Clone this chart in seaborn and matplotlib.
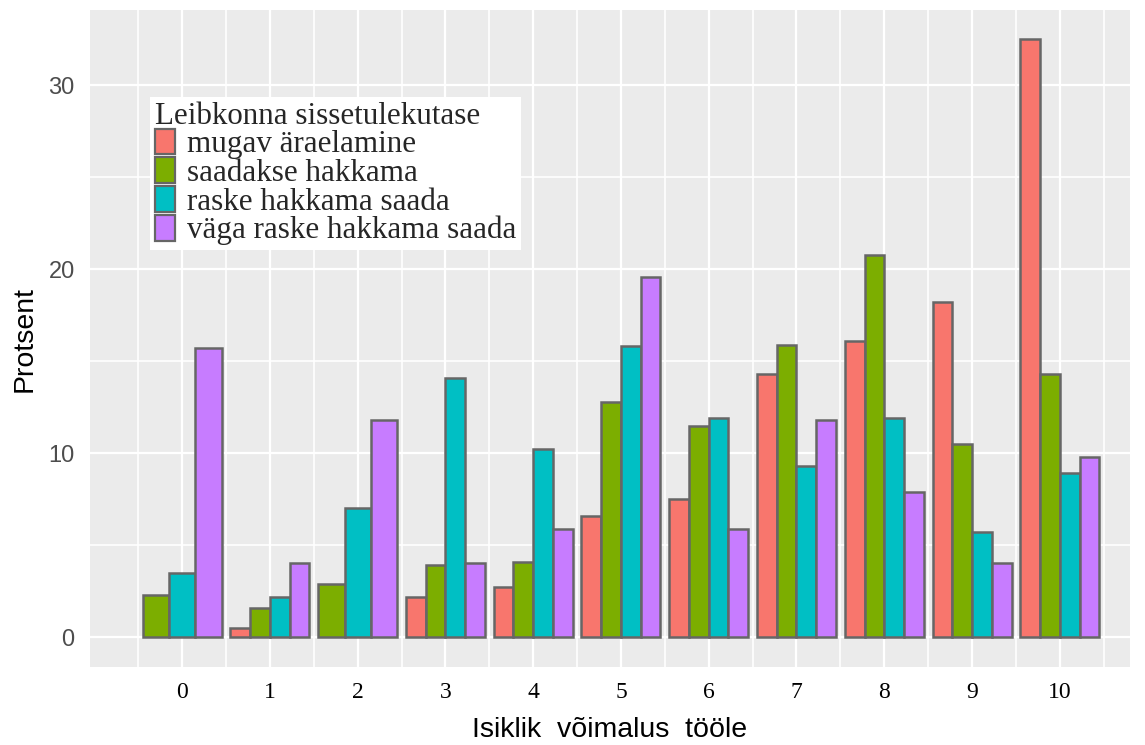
import numpy as np
import pandas as pd
import matplotlib
matplotlib.use("Agg")
import matplotlib.pyplot as plt
import seaborn as sns
from matplotlib.patches import Patch
from matplotlib.ticker import FixedLocator

categories = list(range(11))
series = ["mugav äraelamine", "saadakse hakkama", "raske hakkama saada", "väga raske hakkama saada"]
mugav = [np.nan, 0.5, np.nan, 2.2, 2.7, 6.6, 7.5, 14.3, 16.1, 18.2, 32.5]
saadakse = [2.3, 1.6, 2.9, 3.9, 4.1, 12.8, 11.5, 15.9, 20.8, 10.5, 14.3]
raske = [3.5, 2.2, 7.0, 14.1, 10.2, 15.8, 11.9, 9.3, 11.9, 5.7, 8.9]
vaga = [15.7, 4.0, 11.8, 4.0, 5.9, 19.6, 5.9, 11.8, 7.9, 4.0, 9.8]
colors = ["#F8766D", "#7CAE00", "#00BFC4", "#C77CFF"]
x_title = "Isiklik  võimalus  tööle"
y_title = "Protsent"
legend_title = "Leibkonna sissetulekutase"

sns.set_theme(style="darkgrid", rc={
    "axes.facecolor": "#EBEBEB",
    "grid.color": "white",
    "figure.facecolor": "white",
})
plt.rcParams["font.family"] = ["Liberation Sans", "DejaVu Sans"]

rows = []
for s, vals in zip(series, [mugav, saadakse, raske, vaga]):
    for c, v in zip(categories, vals):
        rows.append({"cat": c, "series": s, "value": v})
df = pd.DataFrame(rows)
palette = dict(zip(series, colors))

fig = plt.figure(figsize=(11.45, 7.45), dpi=100)
ax = fig.add_axes([90 / 1145, (745 - 667) / 745, 1040 / 1145, 657 / 745])

for c in categories:
    sub = df[(df["cat"] == c) & df["value"].notna()]
    present = [s for s in series if s in set(sub["series"])]
    sns.barplot(data=sub, x="cat", y="value", hue="series", hue_order=present,
                palette=palette, native_scale=True, width=0.9, dodge=True,
                saturation=1, edgecolor="#666666", linewidth=1.8,
                errorbar=None, legend=False, ax=ax)

ax.set_xlim(-1.05, 10.8)
ax.set_ylim(-1.63, 34.1)
ax.xaxis.set_major_locator(FixedLocator(categories))
ax.xaxis.set_minor_locator(FixedLocator([c - 0.5 for c in categories] + [10.5]))
ax.yaxis.set_major_locator(FixedLocator([0, 10, 20, 30]))
ax.yaxis.set_minor_locator(FixedLocator([5, 15, 25]))
ax.grid(which="major", color="white", linewidth=1.6)
ax.grid(which="minor", color="white", linewidth=1.2)
ax.set_axisbelow(True)
for sp in ax.spines.values():
    sp.set_visible(False)

ax.set_xticklabels([str(c) for c in categories], fontfamily="Liberation Serif",
                   fontsize=17, color="black")
for lab in ax.get_yticklabels():
    lab.set_fontsize(17)
    lab.set_color("#4D4D4D")
ax.tick_params(axis="both", which="major", length=7, width=1.3, color="#333333", pad=4)
ax.tick_params(axis="both", which="minor", length=0)

ax.set_xlabel(x_title, fontsize=20.5, color="black", labelpad=10)
ax.set_ylabel(y_title, fontsize=20.5, color="black", labelpad=8)

handles = [Patch(facecolor=palette[s], edgecolor="#666666", linewidth=1.6) for s in series]
leg = ax.legend(handles, series, title=legend_title, loc="upper left",
                bbox_to_anchor=((150 - 90) / 1040, (667 - 97) / 657),
                prop={"family": "Liberation Serif", "size": 22.3},
                title_fontproperties={"family": "Liberation Serif", "size": 22.3},
                frameon=True, fancybox=False, framealpha=1, edgecolor="white",
                facecolor="white", handlelength=0.65, handleheight=0.9,
                handletextpad=0.4, labelspacing=-0.06, borderpad=0.15,
                borderaxespad=0, alignment="left")
leg.get_frame().set_linewidth(0)

fig.savefig("out.png", dpi=100)
